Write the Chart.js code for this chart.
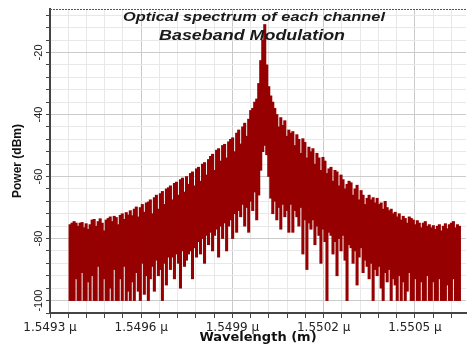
<!DOCTYPE html>
<html>
<head>
<meta charset="utf-8">
<script src="https://cdn.jsdelivr.net/npm/chart.js@4"></script>
<style>
  body { margin: 0; background: #fff; }
  canvas { display: block; }
</style>
</head>
<body>
<canvas id="spectrum" width="468" height="345"></canvas>
<script>
// top of the trace (dBm) in each wavelength bin
const powerHigh = [
  -75.5, -75, -74.5, -75, -76, -75, -74.8, -76.5, -75.2, -77,
  -75.5, -74, -73.8, -76, -74.5, -73.6, -75, -77.5, -74, -73.5,
  -73, -74.5, -72.8, -73.2, -75.5, -72.5, -72, -73.8, -71.6, -72.4,
  -71, -72.6, -70.5, -69.8, -73, -70, -69, -71.5, -68.5, -68.2,
  -67.5, -72, -66.8, -66, -70.5, -65.5, -64.8, -69, -64, -63.6,
  -63, -67.5, -62.2, -61.8, -66, -61, -60.5, -65, -60, -62.5,
  -59, -58.5, -63, -57.5, -57, -61.5, -56, -55.5, -59.5, -54.5,
  -53.5, -52.8, -58, -51.5, -51, -55, -50, -49.6, -54, -48.8,
  -48, -47.5, -52, -46, -45, -49.5, -44, -42.8, -47, -41.5,
  -38.7, -38, -36, -35, -30, -22.6, -16,
  -11,
  -24, -31,
  -34, -36, -38, -40, -44, -41, -43.5, -42, -47, -45,
  -46, -45.5, -50, -46.5, -48, -52.5, -47.8, -49, -54, -50.5,
  -52, -51, -56, -52.5, -54, -58, -53.8, -55, -59, -57.5,
  -57, -61.5, -58, -58.5, -63, -59.5, -61, -64, -62.5, -61.5,
  -62, -66, -64, -62.8, -67.5, -64.5, -66, -69, -67, -66,
  -67.5, -66.8, -68.5, -67, -69, -68.5, -70.5, -68, -70, -71,
  -70.5, -72, -71.5, -73, -72, -74, -72.8, -73.5, -75, -73,
  -73.5, -74, -75.5, -74.2, -75, -76.5, -75, -74.5, -76, -75.5,
  -76.5, -75.8, -77, -76, -75.5, -77.5, -76, -75.2, -76.8, -75.5,
  -75, -74.5, -76.5, -75.5, -76
];

// bottom of the trace (dBm) in each wavelength bin
const powerLow = [
  -100, -100, -100, -93, -100, -100, -91, -100, -100, -94,
  -100, -92, -100, -100, -89, -100, -100, -93, -100, -100,
  -96, -100, -90, -100, -100, -93, -100, -89, -100, -97,
  -100, -94, -100, -91, -97, -100, -88, -98, -92, -100,
  -93, -89, -97, -87, -92, -90, -100, -88, -95, -86,
  -90, -86, -93, -85, -88, -96, -84, -89, -87, -85,
  -84, -93, -83, -86, -81, -85, -80, -88, -79, -82,
  -78, -84, -79, -77, -86, -76, -80, -75, -84, -76,
  -74, -80, -72, -78, -71, -73, -69, -76, -70, -78,
  -68, -71, -65, -74, -66, -58, -52,
  -50,
  -53, -60,
  -67, -72, -68, -74, -70, -77, -69, -73, -71, -78,
  -69, -78, -71, -73, -76, -70, -85, -74, -90, -75,
  -77, -74, -82, -76, -79, -88, -77, -81, -100, -78,
  -79, -85, -81, -92, -80, -84, -79, -87, -100, -82,
  -83, -88, -84, -95, -86, -83, -91, -87, -89, -93,
  -88, -100, -90, -92, -89, -96, -100, -91, -94, -90,
  -100, -93, -95, -100, -92, -100, -94, -100, -97, -91,
  -100, -100, -93, -100, -100, -94, -100, -100, -92, -100,
  -100, -94, -100, -100, -93, -100, -100, -100, -95, -100,
  -100, -93, -100, -100, -100
];

// wavelength grid in micrometres
const lambdaStart = 1.549366;
const lambdaStep = 0.0000066;

const xMajorTicks = [1.5493, 1.5496, 1.5499, 1.5502, 1.5505];
const xMinorStep = 0.00006;
const yMajorTicks = [-100, -80, -60, -40, -20];
const yMinorStep = 4;

const titleLines = ['Optical spectrum of each channel', 'Baseband Modulation'];

const wavelength = powerHigh.map((_, i) => +(lambdaStart + i * lambdaStep).toFixed(8));
const points = wavelength.map((w, i) => ({ x: w, y: [powerLow[i], powerHigh[i]] }));

const xMin = 1.5493, xMax = 1.550668;
const yMin = -104, yMax = -6;

var xTicks = [];
for (const m of xMajorTicks) {
    for (let k = 0; k < 5; k++) {
        const v = +(m + k * xMinorStep).toFixed(6);
        if (v <= xMax) xTicks.push(v);
    }
}
var yTicks = [];
for (let v = yMin; v < yMax; v += yMinorStep) yTicks.push(v);

const overlay = {
    id: 'overlay',
    afterDraw(chart) {
        const ctx = chart.ctx;
        const area = chart.chartArea;
        ctx.save();
        // dotted frame along the top edge
        ctx.strokeStyle = '#555';
        ctx.lineWidth = 1;
        ctx.setLineDash([2, 1]);
        ctx.beginPath();
        ctx.moveTo(area.left, area.top + 0.5);
        ctx.lineTo(area.right, area.top + 0.5);
        ctx.stroke();
        ctx.setLineDash([]);

        // two-line caption sitting inside the plot
        const lines = [
            { text: titleLines[0], x: 254, y: 17, w: 262, size: 13 },
            { text: titleLines[1], x: 252, y: 36, w: 186, size: 14 }
        ];
        ctx.fillStyle = '#1a1a1a';
        ctx.textAlign = 'center';
        ctx.textBaseline = 'middle';
        for (const l of lines) {
            ctx.font = 'italic bold ' + l.size + 'px "Liberation Sans"';
            const sx = l.w / ctx.measureText(l.text).width;
            ctx.save();
            ctx.translate(l.x, l.y);
            ctx.scale(sx, 1);
            ctx.fillText(l.text, 0, 0);
            ctx.restore();
        }
        ctx.restore();
    }
};

new Chart(document.getElementById('spectrum'), {
    type: 'bar',
    data: {
        datasets: [{
            data: points,
            backgroundColor: 'rgb(150,0,0)',
            borderWidth: 0,
            barThickness: 2.4
        }]
    },
    options: {
        responsive: false,
        animation: false,
        devicePixelRatio: 1,
        layout: { padding: { top: 9, right: 2, left: 0, bottom: 0 } },
        plugins: {
            legend: { display: false },
            tooltip: { enabled: false }
        },
        scales: {
            x: {
                type: 'linear',
                offset: false,
                min: xMin,
                max: xMax,
                afterBuildTicks: s => { s.ticks = xTicks.map(v => ({ value: v })); },
                afterFit: s => { s.height = 32; },
                ticks: {
                    autoSkip: false,
                    maxRotation: 0,
                    padding: 3,
                    color: '#222',
                    font: { family: 'DejaVu Sans', size: 12 },
                    callback: (v, i) => i % 5 === 0 ? v.toFixed(4) + ' \u03bc' : ''
                },
                grid: {
                    offset: false,
                    color: c => c.index % 5 === 0 ? '#cbcbcb' : '#e8e8e8',
                    tickColor: '#444',
                    tickLength: 5
                },
                border: { color: '#444', width: 2 },
                title: {
                    display: true,
                    text: 'Wavelength (m)',
                    color: '#111',
                    padding: 0,
                    font: { family: 'DejaVu Sans', size: 13, weight: 'bold' }
                }
            },
            y: {
                min: yMin,
                max: yMax,
                afterBuildTicks: s => { s.ticks = yTicks.map(v => ({ value: v })); },
                afterFit: s => { s.width = 50; },
                ticks: {
                    autoSkip: false,
                    minRotation: 90,
                    maxRotation: 90,
                    crossAlign: 'center',
                    padding: -4,
                    color: '#222',
                    font: { family: 'Liberation Sans', size: 11 },
                    callback: v => yMajorTicks.includes(v) ? String(v) : ''
                },
                grid: {
                    color: c => yMajorTicks.includes(c.tick.value) ? '#cbcbcb' : '#e8e8e8',
                    tickColor: '#444',
                    tickLength: 4
                },
                border: { color: '#444', width: 2 },
                title: {
                    display: true,
                    text: 'Power (dBm)',
                    color: '#111',
                    padding: { top: 10, bottom: 0 },
                    font: { family: 'Liberation Sans', size: 12, weight: 'bold' }
                }
            }
        }
    },
    plugins: [overlay]
});
</script>
</body>
</html>
